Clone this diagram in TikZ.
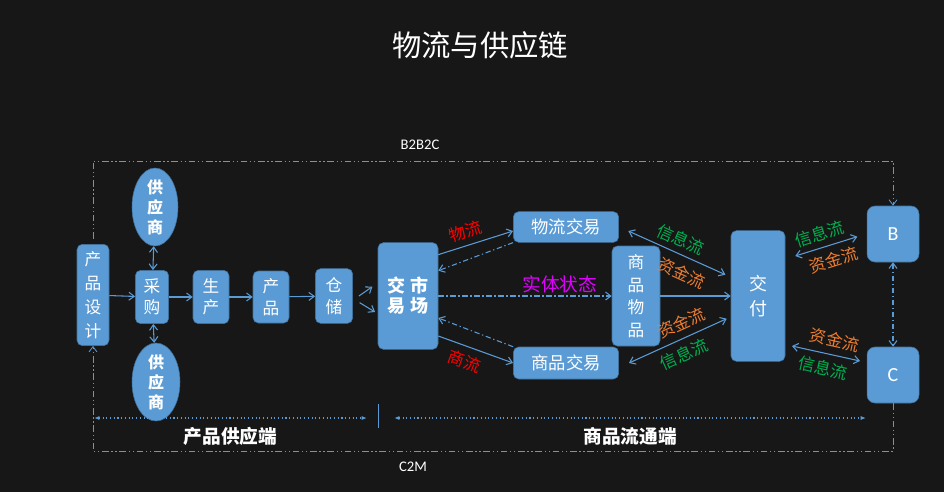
\documentclass[tikz,border=0pt]{standalone}
\usepackage{fontspec}
\setmainfont{Noto Sans CJK SC}
\newfontfamily\latin{Carlito}
\usetikzlibrary{arrows.meta,shapes.geometric}
\definecolor{bg}{HTML}{171717}
\definecolor{boxblue}{HTML}{5B9BD5}
\definecolor{boxline}{HTML}{41719C}
\definecolor{linkblue}{HTML}{5B9BD5}
\definecolor{flowgreen}{HTML}{00B050}
\definecolor{floworange}{HTML}{ED7D31}
\definecolor{flowmagenta}{HTML}{E000FF}
\tikzset{>={Straight Barb[length=4pt,width=6pt]}}
\tikzset{
  box/.style={draw=boxline,fill=boxblue,rounded corners=4pt,inner sep=0pt,
    text=white,align=center,font=\fontsize{12.5}{17}\selectfont},
  supplier/.style={ellipse,draw=boxline,fill=boxblue,inner sep=0pt,
    text=white,align=center,font=\bfseries\fontsize{12}{15}\selectfont},
  link/.style={draw=linkblue,thick},
  back/.style={draw=linkblue,thick,dash pattern=on 4pt off 2pt on 1pt off 2pt},
  frame/.style={draw=linkblue,semithick,dash pattern=on 5pt off 2pt on 1pt off 2pt on 1pt off 2pt},
  span/.style={draw=linkblue,thick,dotted,{Latex[length=4pt]}-{Latex[length=4pt]}},
  lbl/.style={inner sep=0pt,font=\fontsize{12.5}{13}\selectfont},
}

\begin{document}
\begin{tikzpicture}[x=0.75pt,y=-0.75pt]
\useasboundingbox[fill=bg] (0,0) rectangle (944,492);
\node[text=white,font=\fontsize{22}{24}\selectfont] (title) at (480,45) {物流与供应链};
\node[text=white,font=\latin\fontsize{11}{12}\selectfont] (b2b2c) at (420,145) {B2B2C};
\node[text=white,font=\latin\fontsize{11}{12}\selectfont] (c2m) at (413,467) {C2M};

% supply side
\node[box,minimum width=24pt,minimum height=76pt,font=\fontsize{12.5}{18}\selectfont] (design) at (93,295) {产\\品\\设\\计};
\node[supplier,minimum width=34.5pt,minimum height=48pt] (sup1) at (155,207) {供\\应\\商};
\node[box,minimum width=25pt,minimum height=40pt,font=\fontsize{12.5}{16}\selectfont] (buy) at (152,297) {采\\购};
\node[supplier,minimum width=36pt,minimum height=51pt] (sup2) at (156,382) {供\\应\\商};
\node[box,minimum width=27pt,minimum height=40pt,font=\fontsize{12.5}{16}\selectfont] (make) at (211,297) {生\\产};
\node[box,minimum width=27pt,minimum height=39pt,font=\fontsize{12.5}{16}\selectfont] (item) at (271,297) {产\\品};
\node[box,minimum width=28pt,minimum height=41pt,font=\fontsize{12.5}{16}\selectfont] (store) at (334,296) {仓\\储};

% circulation side
\node[box,minimum width=45pt,minimum height=80pt,font=\bfseries\fontsize{13.5}{15}\selectfont] (market) at (408,296) {交\hspace{4pt}市\\易\hspace{4pt}场};
\node[box,minimum width=79pt,minimum height=23pt,font=\fontsize{13}{14}\selectfont] (wltrade) at (566,227) {物流交易};
\node[box,minimum width=79pt,minimum height=24pt,font=\fontsize{13}{14}\selectfont] (sptrade) at (566,363) {商品交易};
\node[box,minimum width=36pt,minimum height=75pt,font=\fontsize{12.5}{17}\selectfont] (goods) at (636,296) {商\\品\\物\\品};
\node[box,minimum width=40.5pt,minimum height=98pt,font=\fontsize{13.5}{19}\selectfont] (pay) at (758,296) {交\\付};
\node[box,rounded corners=6pt,minimum width=39pt,minimum height=42pt,font=\latin\fontsize{15}{16}\selectfont] (B) at (893,234) {B};
\node[box,rounded corners=6pt,minimum width=39pt,minimum height=42pt,font=\latin\fontsize{15}{16}\selectfont] (C) at (893,375) {C};

% supply chain arrows
\draw[link,->] (design) -- (buy);
\draw[link,<->] (buy) -- (sup1);
\draw[link,<->] (buy) -- (sup2);
\draw[link,->] (buy) -- (make);
\draw[link,->] (make) -- (item);
\draw[link,->] (item) -- (store);
\draw[link,->] ([xshift=4.5pt]store.east) -- ([xshift=-4pt,yshift=7pt]market.west);
\draw[link,->] ([xshift=5pt,yshift=-5pt]store.east) -- ([xshift=-2pt,yshift=-12pt]market.west);

% market flows
\draw[link,->] ([yshift=31pt]market.east) -- node[lbl,text=red,above,sloped,yshift=4pt,pos=0.42] {物流} ([yshift=-3pt]wltrade.west);
\draw[back,->] (wltrade.south west) -- ([yshift=19pt]market.east);
\draw[back,->] (market.east) -- node[lbl,text=flowmagenta,above,yshift=2pt,pos=0.7,font=\fontsize{14}{15}\selectfont] {实体状态} (goods.west);
\draw[link,->] ([yshift=-30pt]market.east) -- node[lbl,text=red,below,sloped,yshift=-5pt,pos=0.42] {商流} (sptrade.west);
\draw[back,->] (sptrade.north west) -- ([yshift=-16.5pt]market.east);

% payment flows
\draw[link,<->] ([xshift=7pt,yshift=-3pt]wltrade.east) -- node[lbl,text=flowgreen,above,sloped,yshift=4pt,pos=0.48] {信息流} node[lbl,text=floworange,below,sloped,yshift=-6pt,pos=0.62] {资金流} ([xshift=-4pt,yshift=16pt]pay.west);
\draw[link,->] (goods.east) -- (pay.west);
\draw[link,<->] ([xshift=7.5pt]sptrade.east) -- node[lbl,text=flowgreen,below,sloped,yshift=-5pt,pos=0.5] {信息流} node[lbl,text=floworange,above,sloped,yshift=5pt,pos=0.6] {资金流} ([xshift=-3pt,yshift=-17pt]pay.west);
\draw[link,<->] ([xshift=7.5pt,yshift=30pt]pay.east) -- node[lbl,text=flowgreen,above,sloped,yshift=4pt,pos=0.45] {信息流} node[lbl,text=floworange,below,sloped,yshift=-5pt,pos=0.55] {资金流} ([xshift=-7pt,yshift=-2pt]B.west);
\draw[link,<->] ([xshift=5pt,yshift=-37.5pt]pay.east) -- node[lbl,text=floworange,above,sloped,yshift=5pt,pos=0.58] {资金流} node[lbl,text=flowgreen,below,sloped,yshift=-5pt,pos=0.5] {信息流} ([xshift=-5pt,yshift=10.5pt]C.west);
\draw[back,<->] (B.south) -- (C.south |- C.north);

% outer loops
\coordinate (tl) at (93,161);
\coordinate (tr) at (893,161);
\coordinate (bl) at (93,451);
\coordinate (br) at (893,451);
\draw[frame,->] ([yshift=4pt]design.north) -- (tl) -- (tr) -- (B.north);
\draw[frame,->] (C.south) -- (br) -- (bl) -- (design.south);

% ranges
\coordinate (s1) at (94,418);
\coordinate (s2) at (367,418);
\coordinate (t1) at (394,418);
\coordinate (t2) at (866,418);
\coordinate (sepT) at (378,404);
\coordinate (sepB) at (378,428);
\draw[span] (s1) -- node[below=3pt,text=white,font=\bfseries\fontsize{14}{15}\selectfont] (supplyend) {产品供应端} (s2);
\draw[span] (t1) -- node[below=3pt,text=white,font=\bfseries\fontsize{14}{15}\selectfont] (circend) {商品流通端} (t2);
\draw[link,semithick] (sepT) -- (sepB);
\end{tikzpicture}
\end{document}
